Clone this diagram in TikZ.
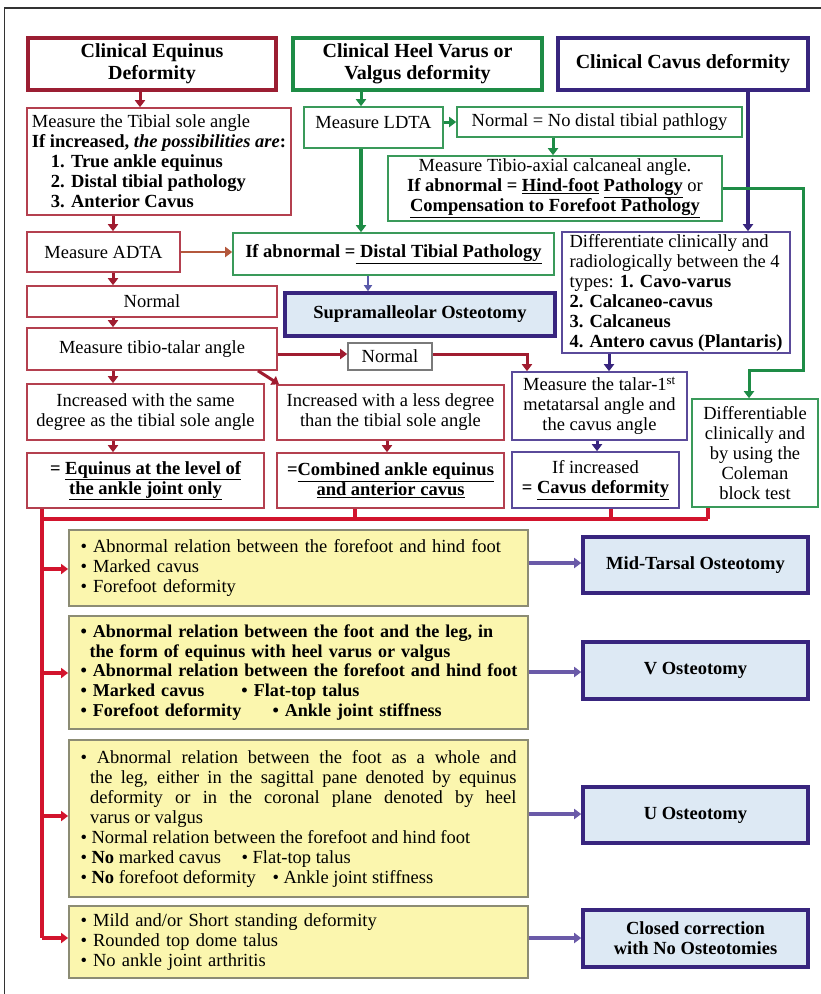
\documentclass[tikz,border=0pt]{standalone}
\usepackage{fontspec}
\setmainfont{Liberation Serif}
\usetikzlibrary{arrows.meta}
\definecolor{hred}{HTML}{9B1E32}
\definecolor{tred}{HTML}{B4404F}
\definecolor{cred}{HTML}{A01C30}
\definecolor{hgreen}{HTML}{1E8C46}
\definecolor{tgreen}{HTML}{3A9A5A}
\definecolor{hpurp}{HTML}{38257E}
\definecolor{tpurp}{HTML}{5A4A9A}
\definecolor{lblue}{HTML}{DDE9F4}
\definecolor{lyel}{HTML}{FBF6AE}
\definecolor{ybord}{HTML}{8C8C74}
\definecolor{busc}{HTML}{D2142D}
\definecolor{oarrc}{HTML}{6A5AA8}
\definecolor{brn}{HTML}{B4583C}
\definecolor{gbord}{HTML}{7A7A7A}
\definecolor{framec}{HTML}{333333}
\definecolor{sarrc}{HTML}{5A5AAA}
\newcommand\bodyfont{\fontsize{18.5}{20}\selectfont}
\newcommand\ybfont{\fontsize{18.1}{19.6}\selectfont\bfseries}
\newcommand\hdrfont{\fontsize{20}{22}\selectfont\bfseries}
\newcommand\ostfont{\fontsize{18.5}{20}\selectfont\bfseries}
\begin{document}
\begin{tikzpicture}[x=1pt,y=-1pt,
  bx/.style={draw, rectangle, inner sep=0pt, align=center, font=\bodyfont, line width=1.6pt, fill=white},
  hdr/.style={bx, line width=3.6pt, font=\hdrfont},
  redbox/.style={bx, draw=tred},
  grnbox/.style={bx, draw=tgreen},
  purbox/.style={bx, draw=tpurp},
  ostbox/.style={bx, draw=hpurp, line width=3.6pt, fill=lblue, font=\ostfont},
  ybox/.style={bx, draw=ybord, line width=1.8pt, fill=lyel, text width=436pt, inner xsep=11.5pt, inner ysep=0pt, align=left, minimum width=459pt},
  tip/.style={-{Triangle[length=7pt,width=10pt]}},
  rarr/.style={cred, line width=3pt, tip},
  garr/.style={hgreen, line width=3pt, tip},
  parr/.style={hpurp, line width=3pt, tip},
  sarr/.style={sarrc, line width=2pt, -{Triangle[length=6pt,width=8pt]}},
  brarr/.style={brn, line width=2.5pt, tip},
  busline/.style={busc, line width=3.5pt},
  busarr/.style={busc, line width=3.5pt, tip},
  oarr/.style={oarrc, line width=3.5pt, tip}
]
\useasboundingbox (0,0) rectangle (821,994);
\fill[white] (0,0) rectangle (821,994);
\draw[framec, line width=1.2pt] (4.5,994) -- (4.5,8) -- (821,8);

% headers
\node[hdr, draw=hred, minimum width=248pt, minimum height=52pt] (h1) at (152,64) {Clinical Equinus\\Deformity};
\node[hdr, draw=hgreen, minimum width=249pt, minimum height=52pt] (h2) at (417.5,64) {Clinical Heel Varus or\\Valgus deformity};
\node[hdr, draw=hpurp, minimum width=250pt, minimum height=52pt] (h3) at (683,64) {Clinical Cavus deformity};

% left column
\node[redbox, align=left, minimum width=264pt, minimum height=107pt] (a1) at (159,161.5) {Measure the Tibial sole angle\\
\textbf{If increased, \textit{the possibilities are}:}\\
\hspace*{19pt}\textbf{1. True ankle equinus}\\
\hspace*{19pt}\textbf{2. Distal tibial pathology}\\
\hspace*{19pt}\textbf{3. Anterior Cavus}};
\node[redbox, minimum width=153pt, minimum height=40pt] (a2) at (103.5,252) {Measure ADTA};
\node[redbox, minimum width=250pt, minimum height=31pt] (a3) at (152,301.5) {Normal};
\node[redbox, minimum width=250pt, minimum height=42pt] (a4) at (152,349) {Measure tibio-talar angle};
\node[redbox, minimum width=237pt, minimum height=56pt] (a5) at (145.5,412) {Increased with the same\\degree as the tibial sole angle};
\node[redbox, minimum width=227pt, minimum height=55pt] (a6) at (390.5,412.5) {Increased with a less degree\\than the tibial sole angle};
\node[redbox, minimum width=237pt, minimum height=55pt] (a7) at (145.5,480.5) {\textbf{= \underline{Equinus at the level of}}\\\textbf{\underline{the ankle joint only}}};
\node[redbox, minimum width=227pt, minimum height=55pt] (a8) at (390.5,480.5) {\textbf{=\underline{Combined ankle equinus}}\\\textbf{\underline{and anterior cavus}}};
\node[bx, draw=gbord, minimum width=84pt, minimum height=27pt] (nm) at (390,356.5) {Normal};

% green column
\node[grnbox, minimum width=139pt, minimum height=41pt, text height=13pt, text depth=12pt] (g1) at (373.5,127.5) {Measure LDTA};
\node[grnbox, minimum width=285pt, minimum height=30pt] (g2) at (599.5,122) {Normal = No distal tibial pathlogy};
\node[grnbox, minimum width=334pt, minimum height=65pt] (g3) at (555,188.5) {Measure Tibio-axial calcaneal angle.\\
\textbf{If abnormal = \underline{Hind-foot} \underline{Pathology}} or\\
\textbf{\underline{Compensation to Forefoot Pathology}}};
\node[grnbox, minimum width=321pt, minimum height=42pt] (g4) at (393.5,254) {\textbf{If abnormal =\underline{\ Distal Tibial Pathology}}};
\node[ostbox, minimum width=270pt, minimum height=43pt] (sup) at (420,314.5) {Supramalleolar Osteotomy};

% purple column
\node[purbox, align=left, minimum width=228pt, minimum height=121pt] (p1) at (676,292.5) {Differentiate clinically and\\
radiologically between the 4\\
types: \textbf{1. Cavo-varus}\\
\textbf{2. Calcaneo-cavus}\\
\textbf{3. Calcaneus}\\
\textbf{4. Antero cavus (Plantaris)}};
\node[purbox, minimum width=175pt, minimum height=68pt] (p2) at (599.5,406) {Measure the talar-1\textsuperscript{st}\\metatarsal angle and\\the cavus angle};
\node[purbox, minimum width=167pt, minimum height=56pt] (p3) at (595.5,480) {If increased\\\textbf{= \underline{Cavus deformity}}};
\node[grnbox, minimum width=126pt, minimum height=108pt] (gd) at (755,453) {Differentiable\\clinically and\\by using the\\Coleman\\block test};

% yellow boxes
\node[ybox, minimum height=76pt] (y1) at (298.5,568) {\mbox{• Abnormal relation between the forefoot and hind foot}\\
• Marked cavus\\
• Forefoot deformity};
\node[ybox, minimum height=113pt, font=\ybfont] (y2) at (298.5,672.5) {\mbox{• Abnormal relation between the foot and the leg, in}\\
\mbox{\hspace*{9pt}the form of equinus with heel varus or valgus}\\
\mbox{• Abnormal relation between the forefoot and hind foot}\\
\mbox{\makebox[161pt][l]{• Marked cavus}• Flat-top talus}\\
\mbox{\makebox[192pt][l]{• Forefoot deformity}• Ankle joint stiffness}};
\node[ybox, align=justify, minimum height=157pt] (y3) at (298.5,818.5) {\hangindent=9.5pt\hangafter=1 • Abnormal relation between the foot as a whole and\linebreak the leg, either in the sagittal pane denoted by equinus\linebreak deformity or in the coronal plane denoted by heel\linebreak varus or valgus\par
• Normal relation between the forefoot and hind foot\par
\makebox[161pt][l]{• \textbf{No} marked cavus}• Flat-top talus\par
\makebox[192pt][l]{• \textbf{No} forefoot deformity}• Ankle joint stiffness};
\node[ybox, minimum height=72pt] (y4) at (298.5,942) {• Mild and/or Short standing deformity\\
• Rounded top dome talus\\
• No ankle joint arthritis};

% osteotomy boxes
\node[ostbox, minimum width=225pt, minimum height=56pt] (o1) at (695.5,565) {Mid-Tarsal Osteotomy};
\node[ostbox, minimum width=225pt, minimum height=57pt] (o2) at (695.5,670.5) {V Osteotomy};
\node[ostbox, minimum width=225pt, minimum height=56pt] (o3) at (695.5,815) {U Osteotomy};
\node[ostbox, minimum width=225pt, minimum height=57pt] (o4) at (695.5,938.5) {Closed correction\\with No Osteotomies};

% left column connectors
\draw[rarr] (h1.south -| 140,0) -- (a1.north -| 140,0);
\draw[rarr] (a1.south -| 113,0) -- (a2.north -| 113,0);
\draw[rarr] (a2.south -| 113,0) -- (a3.north -| 113,0);
\draw[rarr] (a3.south -| 113,0) -- (a4.north -| 113,0);
\draw[rarr] (a4.south -| 113,0) -- (a5.north -| 113,0);
\draw[rarr] (a5.south -| 113,0) -- (a7.north -| 113,0);
\draw[rarr] (a4.east |- 0,354) -- (nm.west |- 0,354);
\draw[rarr] (a4.south -| 258,0) -- (a6.north -| 279,0);
\draw[rarr] (a6.south -| 387,0) -- (a8.north -| 387,0);
\draw[rarr] (nm.east |- 0,354) -| (p2.north -| 527,0);
\draw[brarr] (a2.east) -- (g4.west |- a2.east);

% green connectors
\draw[garr] (h2.south -| 361,0) -- (g1.north -| 361,0);
\draw[garr, line width=3.5pt] (g1.south -| 361,0) -- (g4.north -| 361,0);
\draw[garr] (g1.east |- 0,122) -- (g2.west |- 0,122);
\draw[garr] (g2.south -| 553,0) -- (g3.north -| 553,0);
\draw[sarr] (g4.south -| 368,0) -- (sup.north -| 368,0);

% purple connectors
\draw[parr, line width=3.5pt] (h3.south -| 748,0) -- (p1.north -| 748,0);
\draw[parr] (p1.south -| 609,0) -- (p2.north -| 609,0);
\draw[parr] (p2.south -| 597,0) -- (p3.north -| 597,0);
\draw[garr] (g3.east |- 0,188) -- (803,188) -- (803,370) -- (749,370) -- (gd.north -| 749,0);

% red bus
\draw[busline] (a8.south -| 355,0) -- (355,519);
\draw[busline] (p3.south -| 611,0) -- (611,519);
\draw[busline] (gd.south -| 708,0) -- (708,519);
\draw[busline] (42,519) -- (708,519);
\draw[busline] (a7.south -| 42,0) -- (42,938);
\draw[busarr] (42,569) -- (y1.west |- 0,569);
\draw[busarr] (42,673) -- (y2.west |- 0,673);
\draw[busarr] (42,816) -- (y3.west |- 0,816);
\draw[busarr] (42,938) -- (y4.west |- 0,938);

% yellow to osteotomy
\draw[oarr] (y1.east |- 0,563) -- (o1.west |- 0,563);
\draw[oarr] (y2.east |- 0,672) -- (o2.west |- 0,672);
\draw[oarr] (y3.east |- 0,814) -- (o3.west |- 0,814);
\draw[oarr] (y4.east |- 0,938) -- (o4.west |- 0,938);
\end{tikzpicture}
\end{document}
